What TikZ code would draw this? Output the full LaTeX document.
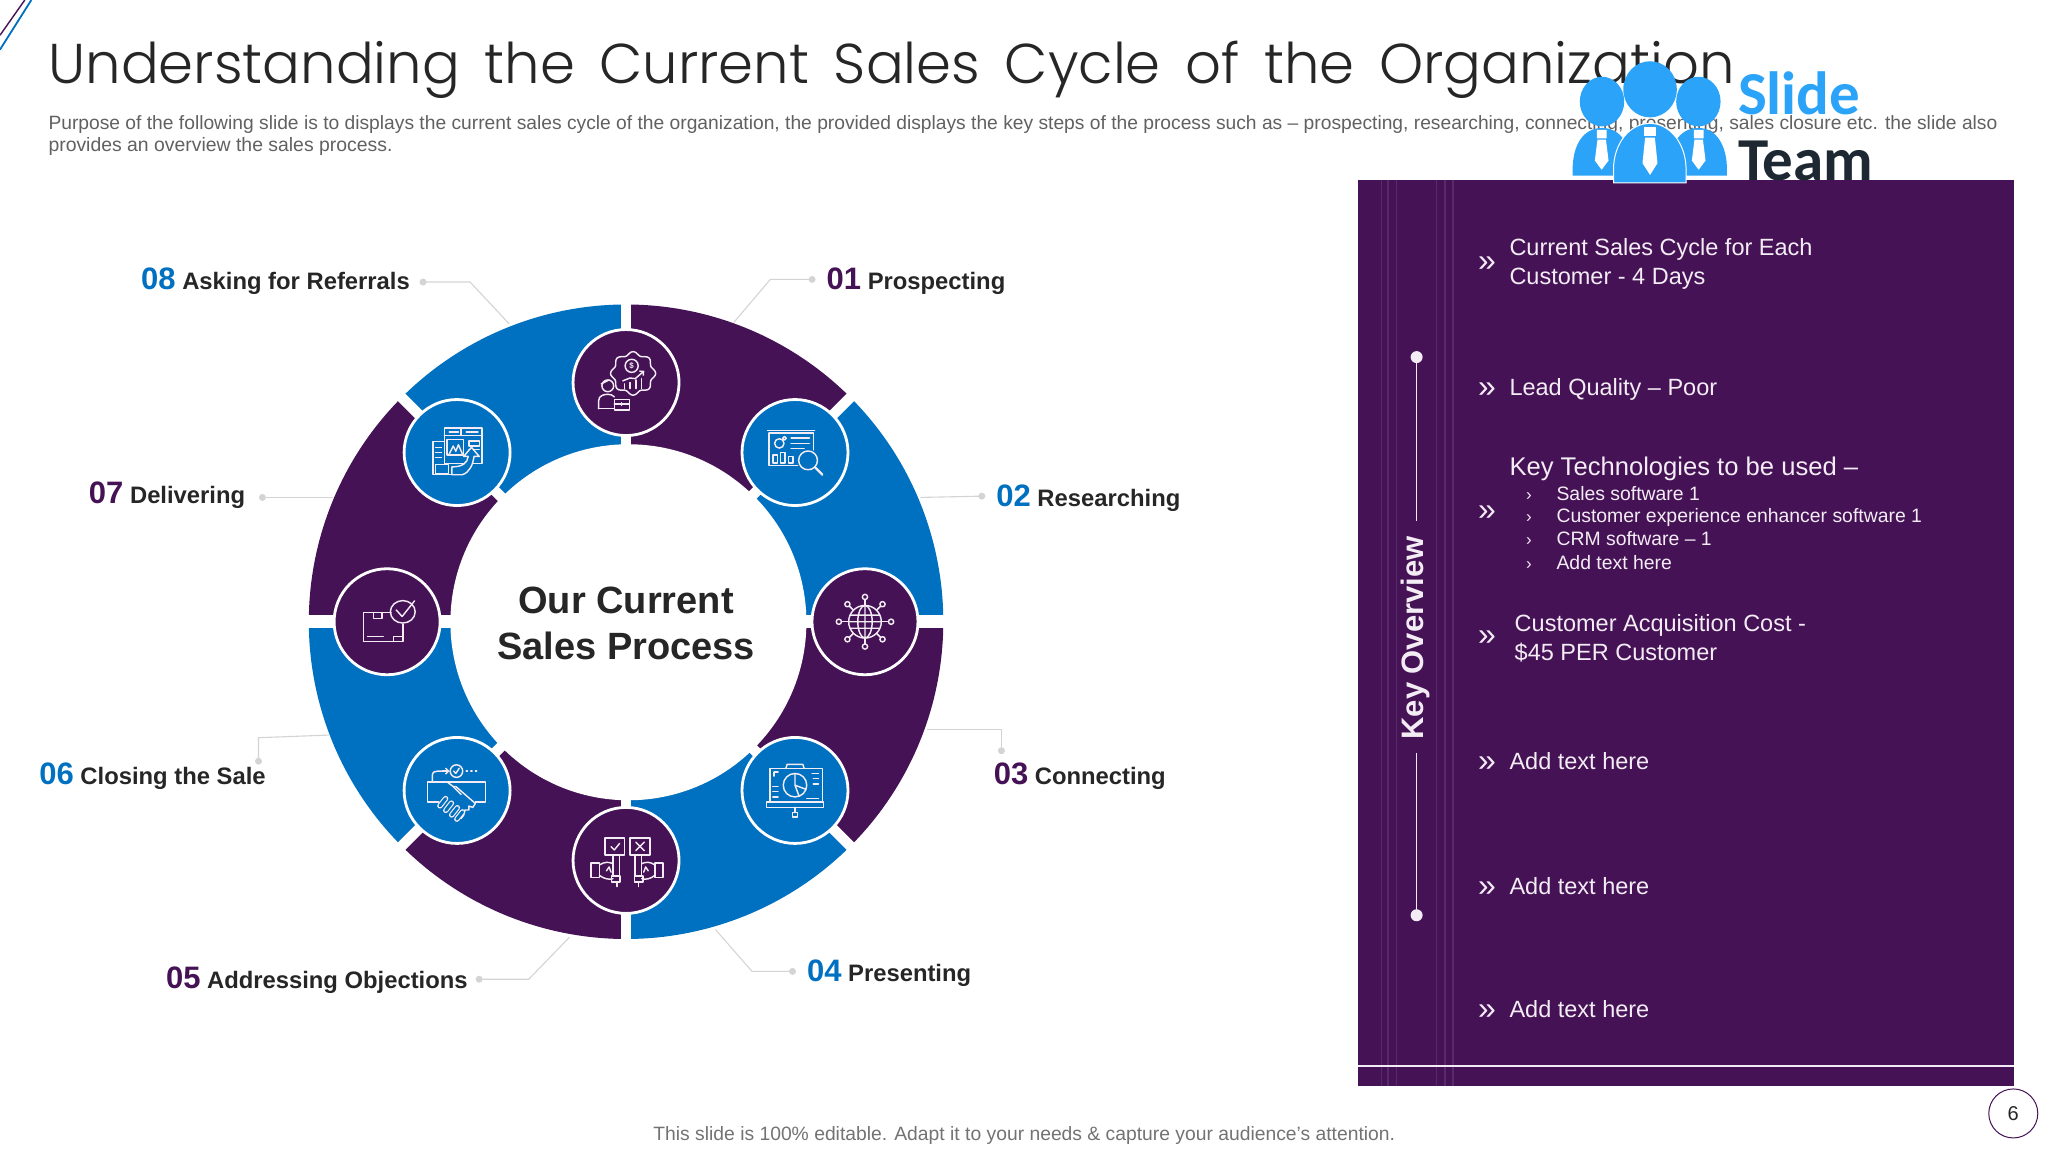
\documentclass[tikz,border=0pt]{standalone}
\usetikzlibrary{arrows.meta}
\usepackage{fontspec}
\usepackage{graphicx}
\setmainfont{Liberation Sans}
\newfontfamily\titlefont[WordSpace=1.6]{Poppins Light}
\newfontfamily\logofont{Carlito}
\definecolor{pur}{HTML}{451255}
\definecolor{blu}{HTML}{0070C0}
\definecolor{lblue}{HTML}{2BA3F8}
\definecolor{ink}{HTML}{262626}
\definecolor{pale}{HTML}{F3ECF5}
\definecolor{glin}{HTML}{D4D4D4}
\definecolor{pline}{HTML}{572A68}
\definecolor{logok}{HTML}{1E2832}
\newcommand{\fsz}[1]{\fontsize{#1}{#1}\selectfont}
\tikzset{
  lbl/.style={anchor=base west,inner sep=0pt,text=ink,font=\fsz{23.8}\bfseries},
  ptxt/.style={anchor=base west,inner sep=0pt,text=pale,font=\fsz{23.5}},
  stxt/.style={anchor=base west,inner sep=0pt,text=pale,font=\fsz{19.4}},
  chev/.style={anchor=center,inner sep=0pt,text=pale,font=\fsz{32}},
  schev/.style={anchor=center,inner sep=0pt,text=pale,font=\fsz{17}},
  dotn/.style={circle,fill=glin,inner sep=0pt,minimum size=7pt},
  conn/.style={draw=glin,line width=1.1pt},
  badge/.style={circle,draw=white,line width=2.8pt,minimum size=106pt,inner sep=0pt},
  ico/.style={draw=pale,line width=1.45pt,line join=round,line cap=round},
  pill/.style={draw=pale,line width=1.2pt,double=blu,double distance=3pt,line cap=round}
}
\newcommand{\iconprospect}{
  \draw[ico] plot[domain=0:360,samples=73,smooth] ({5.4+(16+1.3*cos(8*\x))*cos(\x)},{-7+(15.4+1.3*cos(8*\x))*sin(\x)});
  \draw[ico] (4.3,-12.8) circle (5);
  \node[text=pale,font=\fsz{8}\bfseries,inner sep=0pt] (ipd) at (4.3,-12.8) {\$};
  \draw[ico] (-1,4.6)--(-1,1) (3,4.6)--(3,0) (7.5,4.6)--(7.5,-2) (12,4.6)--(12,-3);
  \draw[ico,-{Straight Barb[length=3pt]}] (-2.5,-1.3)--(3,-3.5)--(7,-3)--(14,-9);
  \draw[ico] (-14,2.5) circle (4.5);
  \draw[ico] (-19,1)--(-13,-2);
  \draw[ico] (-21,20)--(-21,14)..controls (-21,10) and (-17,9) .. (-14,9)..controls (-12,9) and (-10,9.5) .. (-9,11);
  \draw[ico] (-21,20)--(-9,20);
  \draw[ico] (-9,13) rectangle (2.5,21) (-9,16.5)--(2.5,16.5) (-3.5,15.5)--(-3.5,17.5);
}
\newcommand{\iconresearch}{
  \draw[ico] (-21,-17)--(15,-17) (-20,-15)--(14,-15) (-20,-15)--(-20,10)--(2,10);
  \draw[ico] (14,-15)--(14,-2);
  \draw[ico] (-12,-7) circle (3.6) (-8,-11) circle (1.4);
  \draw[ico] (-3,-11)--(11,-11) (-3,-7)--(11,-7) (-3,-3)--(7,-3);
  \draw[ico] (-17,2) rectangle (-13.5,8) (-11,0) rectangle (-7.5,8) (-5,3) rectangle (-1.5,8);
  \draw[ico] (10,6) circle (7.2);
  \draw[ico,line width=2.2pt] (15.5,11.5)--(21,17);
}
\newcommand{\iconglobe}{
  \draw[ico] (0,0) circle (12.5);
  \draw[ico] (0,0) ellipse (5.5 and 12.5) (0,-12.5)--(0,12.5) (-12.5,0)--(12.5,0) (-11,-5)--(11,-5) (-11,5)--(11,5);
  \foreach \a/\r in {0/20,45/19,90/19,135/19,180/20,225/19,270/19,315/19}{
    \draw[ico] (\a:12.5)--(\a:\r-2);
    \draw[ico] (\a:\r) circle (2);
  }
}
\newcommand{\iconpresent}{
  \draw[ico] (-19,9)--(-19,-17)--(21,-17)--(21,9);
  \draw[ico] (-7,-17)--(-6,-20)--(6,-20)--(7,-17);
  \draw[ico] (0,-4) circle (9) (0,-4)--(0,-13) (0,-4)--(8,-1) (0,-4)--(3,4);
  \draw[ico] (-22,9) rectangle (22,13);
  \draw[ico] (0,13)--(0,17) (-1.8,17) rectangle (1.8,20.5);
  \draw[ico] (-17,-3)--(-13,-3) (-17,1)--(-13,1) (-17,5)--(-13,5) (13,-13)--(18,-13) (14,-9)--(18,-9) (14,-5)--(18,-5) (9,6)--(18,6);
  \draw[ico] (-16,-14)--(-16,-11) (-16,-14)--(-13,-14);
}
\newcommand{\iconobject}{
  \draw[ico] (-16,-17) rectangle (-1.3,-4) (3,-17) rectangle (18.4,-4);
  \draw[ico] (-11.5,-10.5)--(-9,-8)--(-5,-13) (7.5,-14)--(14,-7.5) (14,-14)--(7.5,-7.5);
  \draw[ico] (-10,-4)--(-10,12) (-5,-4)--(-5,12) (7,-4)--(7,12) (12,-4)--(12,12);
  \draw[ico] (-26.8,2) rectangle (-20.4,13) (22,2) rectangle (28.4,13);
  \draw[ico] (-20.4,3.5)..controls(-17,1) and (-13,1) .. (-10,2.5);
  \draw[ico] (-20.4,11.5)..controls(-17,14) and (-13,15) .. (-10,14);
  \draw[ico] (22,3.5)..controls(19,1) and (15,1) .. (12,2.5);
  \draw[ico] (22,11.5)..controls(19,14) and (15,15) .. (12,14);
  \draw[ico] (-11,12) rectangle (-4.5,16.5) (6.5,12) rectangle (13,16.5);
  \draw[ico] (-7,16.5) -- (-7,20) (9.5,16.5) -- (9.5,20);
  \draw[ico] (-15,8)--(-13,5)--(-11.5,9) (17,8)--(15,5)--(13.5,9);
}
\newcommand{\iconclose}{
  \draw[ico] (-14,9)--(-22.5,9)--(-22.5,-6.4)--(21.7,-6.4)--(21.7,9)--(14,9);
  \draw[ico] (-19,-6.4)--(-19,-11.5)..controls(-19,-14) and (-17,-14.8) .. (-15,-14.8)--(-7,-14.8);
  \draw[ico,-{Straight Barb[length=3pt]}] (-11,-14.8)--(-5.8,-14.8);
  \draw[ico] (-.5,-14.8) circle (4.8);
  \draw[ico] (-2.6,-14.8)--(-1,-13)--(1.6,-17);
  \draw[ico] (7,-15)--(8,-15) (10.5,-15)--(11.5,-15) (14,-15)--(15,-15);
  \draw[ico] (-7,-6)--(-3,-3)--(-1,-3)--(14,10)--(12,13)--(9,12)--(9,15)--(6,15)--(5,19)--(3,21.5);
  \draw[ico] (-3,-3)--(3,3);
  \foreach \u/\v in {-11/9,-6.5/12.5,-2/16,2/19.2}{
    \draw[pill] (\u+2.2,\v-2.8)--(\u-2.2,\v+2.8);
  }
}
\newcommand{\icondeliver}{
  \draw[ico] (-18,15)--(-18,-7)--(3,-7);
  \draw[ico] (-18,15)--(12,15)--(12,2);
  \draw[ico] (-10.6,-7)--(-10.6,-2.5)--(-4,-2.5)--(-4,-7);
  \draw[ico] (-15,11.5)--(-3,11.5) (5,15)--(5,11.5)--(12,11.5);
  \draw[ico] (12,-7.6) ellipse (9.5 and 8.6);
  \draw[ico] (7,-9)--(11.5,-4)--(21,-16);
}
\newcommand{\icondeal}{
  \draw[ico] (-9.7,-18.7) rectangle (19,8.2);
  \draw[ico] (-9.7,-13)--(19,-13) (3,-18.7)--(3,-13) (-6,-15.8)--(1,-15.8) (7,-15.8)--(16,-15.8);
  \draw[ico] (-7.7,-10) rectangle (5.1,2);
  \draw[ico] (-6,1)--(-3,-5)--(-1,-1)--(1,-6)--(4,1);
  \draw[ico] (9,-9) rectangle (17,-5) (9,-2.5)--(17,-2.5);
  \draw[ico,fill=blu] (-18.6,-8.4) rectangle (-9.7,17);
  \draw[ico] (-9.7,17)--(-2,17);
  \draw[ico] (-16.5,-4)--(-12,-4) (-16.5,0)--(-12,0) (-16.5,4)--(-12,4);
  \draw[ico,fill=blu] (-16.6,9) rectangle (-6.4,16.5);
  \draw[ico,fill=blu] (-4,17)--(4,17)..controls(10,15) and (12,9) .. (13,3)--(17,3)--(11,-4)--(5,3)--(8.5,3)..controls(8,8) and (4,11) .. (-4,11)--cycle;
}
\begin{document}
\begin{tikzpicture}[x=1.30559pt,y=-1.30559pt]
\useasboundingbox (0,0) rectangle (1568.6,882.35);
\fill[white] (0,0) rectangle (1568.6,882.35);
% corner strokes
\coordinate (ca1) at (19,0); \coordinate (ca2) at (0,27);
\coordinate (cb1) at (24,0); \coordinate (cb2) at (0,38);
\draw[pur,line width=1.4pt] (ca1)--(ca2);
\draw[blu,line width=1.8pt] (cb1)--(cb2);
% heading
\node[anchor=base west,inner sep=0pt,text=ink] (ttl) at (37,64) {\resizebox{1686pt}{!}{\titlefont\fsz{56}Understanding the Current Sales Cycle of the Organization}};
\node[anchor=base west,inner sep=0pt,text=black!62] (d1) at (37,99) {\resizebox{1949pt}{!}{\fsz{19.6}Purpose of the following slide is to displays the current sales cycle of the organization, the provided displays the key steps of the process such as – prospecting, researching, connecting, presenting, sales closure etc. the slide also}};
\node[anchor=base west,inner sep=0pt,text=black!62,font=\fsz{19.4}] (d2) at (37,116) {provides an overview the sales process.};
% ring
\def\cxx{479.5}\def\cyy{476.2}
\foreach \k/\c in {0/pur,1/blu,2/pur,3/blu,4/pur,5/blu,6/pur,7/blu}{
  \pgfmathsetmacro\aa{-90+45*\k}\pgfmathsetmacro\bb{-45+45*\k}
  \fill[\c] plot[domain=\aa:\bb,samples=40] ({\cxx+243*cos(\x)},{\cyy+243*sin(\x)})
     -- plot[domain=\bb:\aa,samples=40] ({\cxx+120*cos(\x)},{\cyy+120*sin(\x)}) -- cycle;
}
\foreach \a in {0,45,...,315}{
  \draw[white,line width=10.5pt] ({\cxx+125*cos(\a)},{\cyy+125*sin(\a)}) -- ({\cxx+252*cos(\a)},{\cyy+252*sin(\a)});
}
\foreach \a in {0,180}{
  \draw[white,line width=13.3pt] ({\cxx+125*cos(\a)},\cyy) -- ({\cxx+252*cos(\a)},\cyy);
}
\node[circle,fill=white,minimum size=356pt,inner sep=0pt] (hub) at (481.3,476.6) {};
\node[inner sep=0pt,align=center,text=ink,font=\fsz{38}\bfseries] (hubt) at (479.5,477.5) {Our Current\\[8pt]Sales Process};
% badges
\node[badge,fill=pur] (b1) at (479.5,293) {};
\node[badge,fill=blu] (b2) at (608.9,346.6) {};
\node[badge,fill=pur] (b3) at (662.5,476.2) {};
\node[badge,fill=blu] (b4) at (608.9,605.4) {};
\node[badge,fill=pur] (b5) at (479.5,659) {};
\node[badge,fill=blu] (b6) at (350.1,605.4) {};
\node[badge,fill=pur] (b7) at (296.5,476.2) {};
\node[badge,fill=blu] (b8) at (350.1,346.6) {};
\begin{scope}[shift={(479.5,293)}]\iconprospect\end{scope}
\begin{scope}[shift={(608.9,346.6)}]\iconresearch\end{scope}
\begin{scope}[shift={(662.5,476.2)}]\iconglobe\end{scope}
\begin{scope}[shift={(608.9,605.4)}]\iconpresent\end{scope}
\begin{scope}[shift={(479.5,659)}]\iconobject\end{scope}
\begin{scope}[shift={(350.1,605.4)}]\iconclose\end{scope}
\begin{scope}[shift={(296.5,476.2)}]\icondeliver\end{scope}
\begin{scope}[shift={(350.1,346.6)}]\icondeal\end{scope}
% connectors
\node[dotn] (p1) at (622,214) {}; \coordinate (m1) at (590,214); \coordinate (e1) at (562,247);
\node[dotn] (p2) at (752,380) {}; \coordinate (e2) at (705,381);
\node[dotn] (p3) at (767,575) {}; \coordinate (m3) at (767,559); \coordinate (e3) at (710,559);
\node[dotn] (p4) at (607,744) {}; \coordinate (m4) at (576,744); \coordinate (e4) at (548,712);
\node[dotn] (p5) at (367,750) {}; \coordinate (m5) at (405,750); \coordinate (e5) at (436,718);
\node[dotn] (p6) at (198,583) {}; \coordinate (m6) at (198,565); \coordinate (e6) at (252,563);
\node[dotn] (p7) at (201,381) {}; \coordinate (e7) at (255,381);
\node[dotn] (p8) at (324,216) {}; \coordinate (m8) at (360,216); \coordinate (e8) at (390,248);
\draw[conn] (p1.center)--(m1)--(e1);
\draw[conn] (p2.center)--(e2);
\draw[conn] (p3.center)--(m3)--(e3);
\draw[conn] (p4.center)--(m4)--(e4);
\draw[conn] (p5.center)--(m5)--(e5);
\draw[conn] (p6.center)--(m6)--(e6);
\draw[conn] (p7.center)--(e7);
\draw[conn] (p8.center)--(m8)--(e8);
% labels
\newcommand{\num}[2]{\textcolor{#1}{\fsz{31}#2}}
\node[lbl] (l1) at (633,222) {\num{pur}{01} Prospecting};
\node[lbl] (l2) at (763,388) {\num{blu}{02} Researching};
\node[lbl] (l3) at (761,601) {\num{pur}{03} Connecting};
\node[lbl] (l4) at (618,752) {\num{blu}{04} Presenting};
\node[lbl] (l5) at (127,757) {\num{pur}{05} Addressing Objections};
\node[lbl] (l6) at (30,601) {\num{blu}{06} Closing the Sale};
\node[lbl] (l7) at (68,386) {\num{pur}{07} Delivering};
\node[lbl] (l8) at (108,222) {\num{blu}{08} Asking for Referrals};
% panel
\fill[pur] (1040.2,138) rectangle (1542.7,831.8);
\foreach \xx in {1058.3,1063,1069.7,1100.4,1106.8,1112.9}{\draw[pline,line width=1.4pt] (\xx,138)--(\xx,831.8);}
\draw[pale,line width=1.2pt] (1040.2,816.5)--(1542.7,816.5);
\node[circle,fill=pale,inner sep=0pt,minimum size=12pt] (t1) at (1085,273.5) {};
\node[circle,fill=pale,inner sep=0pt,minimum size=12pt] (t2) at (1085,701) {};
\node[rotate=90,anchor=base,inner sep=0pt,text=pale,font=\fsz{31}\bfseries] (kov) at (1090,488.6) {Key Overview};
\coordinate (t1e) at (1085,399); \coordinate (t2e) at (1085,577);
\draw[pale,line width=1.2pt] (t1.center)--(t1e);
\draw[pale,line width=1.2pt] (t2.center)--(t2e);
\node[chev] (c1) at (1139,202) {»};
\node[ptxt] (x1a) at (1156,196) {Current Sales Cycle for Each};
\node[ptxt] (x1b) at (1156,218) {Customer - 4 Days};
\node[chev] (c2) at (1139,299) {»};
\node[ptxt] (x2) at (1156,303) {Lead Quality – Poor};
\node[chev] (c3) at (1139,393) {»};
\node[ptxt,font=\fsz{25.6}] (x3) at (1156,364) {Key Technologies to be used –};
\node[schev] (s1) at (1171,380) {›};
\node[stxt] (y1) at (1192,383) {Sales software 1};
\node[schev] (s2) at (1171,397) {›};
\node[stxt] (y2) at (1192,400) {Customer experience enhancer software 1};
\node[schev] (s3) at (1171,415) {›};
\node[stxt] (y3) at (1192,418) {CRM software – 1};
\node[schev] (s4) at (1171,433) {›};
\node[stxt] (y4) at (1192,436) {Add text here};
\node[chev] (c4) at (1139,489) {»};
\node[ptxt] (x4a) at (1160,484) {Customer Acquisition Cost -};
\node[ptxt] (x4b) at (1160,506) {\$45 PER Customer};
\node[chev] (c5) at (1139,585) {»};
\node[ptxt] (x5) at (1156,589) {Add text here};
\node[chev] (c6) at (1139,681) {»};
\node[ptxt] (x6) at (1156,685) {Add text here};
\node[chev] (c7) at (1139,775) {»};
\node[ptxt] (x7) at (1156,779) {Add text here};
% logo
\node[anchor=base west,inner sep=0pt,text=lblue,font=\logofont\fsz{61}\bfseries] (lg1) at (1331,88) {Slide};
\begin{scope}
\clip (1320,90) rectangle (1450,138);
\node[anchor=base west,inner sep=0pt,text=logok,font=\logofont\fsz{61}\bfseries] (lg2) at (1331,138) {Team};
\end{scope}
\fill[lblue] (1227,77.8) ellipse (17 and 19);
\fill[lblue] (1300.8,77.8) ellipse (17 and 19);
\fill[lblue] (1204.5,134.5) -- (1204.5,130) .. controls (1204.5,112) and (1212,98) .. (1227,98) .. controls (1242,98) and (1249.5,112) .. (1249.5,130) -- (1249.5,134.5) -- cycle;
\fill[lblue] (1278,134.5) -- (1278,130) .. controls (1278,112) and (1286,98) .. (1300.8,98) .. controls (1315,98) and (1322.7,112) .. (1322.7,130) -- (1322.7,134.5) -- cycle;
\fill[white] (1223,99.5) rectangle (1230.5,106) (1297.3,99.5) rectangle (1304.8,106);
\fill[white] (1223.5,107)--(1230,107)--(1232,123)--(1226.7,130)--(1221.5,123)--cycle;
\fill[white] (1297.8,107)--(1304.3,107)--(1306.3,123)--(1301,130)--(1295.8,123)--cycle;
\fill[lblue,draw=white,line width=1pt] (1235.8,140) -- (1235.8,130) .. controls (1235.8,110) and (1248,94.5) .. (1263.8,94.5) .. controls (1279,94.5) and (1291.4,110) .. (1291.4,130) -- (1291.4,140) -- cycle;
\fill[lblue] (1263.8,68.4) ellipse (20.5 and 21.5);
\fill[white] (1259.5,97.5) rectangle (1268,104.5);
\fill[white] (1260,105.5)--(1267.5,105.5)--(1269.5,125)--(1263.8,134)--(1258,125)--cycle;
% footer
\node[inner sep=0pt,text=black!55,font=\fsz{19.3}] (ft) at (784.5,869.5) {This slide is 100\% editable. Adapt it to your needs \& capture your audience's attention.};
\node[circle,draw=pur,line width=1pt,minimum size=49pt,inner sep=0pt,text=ink,font=\fsz{20}] (pg) at (1542,852.8) {6};
\end{tikzpicture}
\end{document}
